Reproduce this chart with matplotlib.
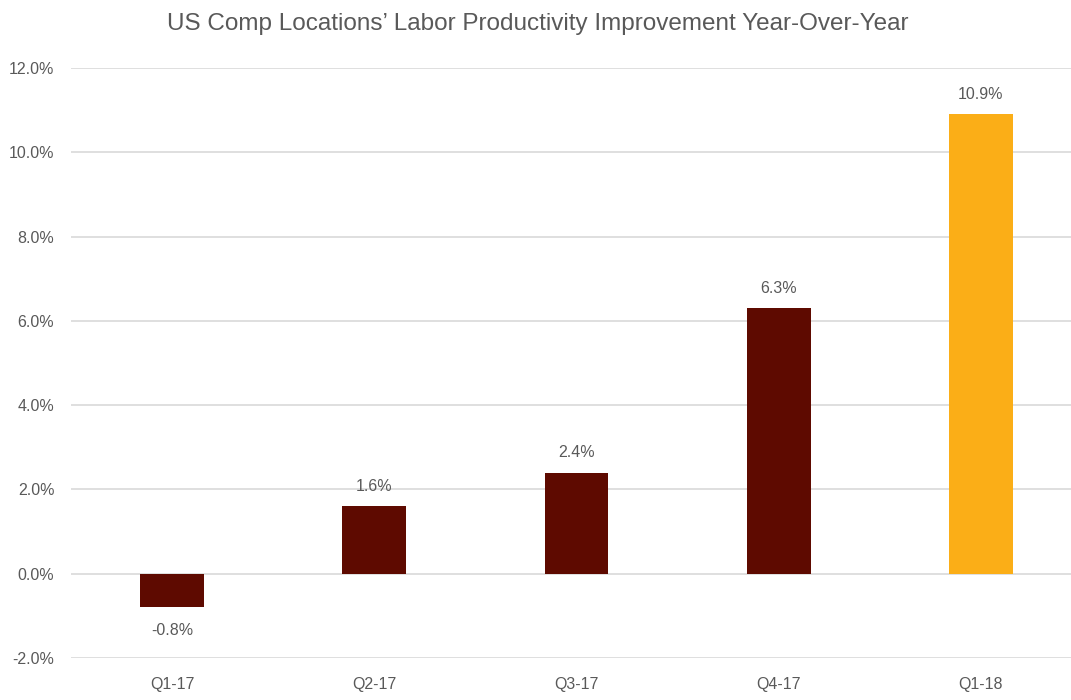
import matplotlib.pyplot as plt
import numpy as np

quarters = ['Q1-17', 'Q2-17', 'Q3-17', 'Q4-17', 'Q1-18']
improvement = [-0.8, 1.6, 2.4, 6.3, 10.9]
bar_colors = ['#5E0A00', '#5E0A00', '#5E0A00', '#5E0A00', '#FBAE17']
y_ticks = [-2, 0, 2, 4, 6, 8, 10, 12]

plt.rcParams['font.family'] = ['Liberation Sans Narrow', 'Liberation Sans', 'DejaVu Sans']
text_col = '#595959'

fig = plt.figure(figsize=(10.71, 7), dpi=100)
# axes runs a little past the right edge, like the source
ax = fig.add_axes([0.0663, 0.06, 0.944, 0.8429])

x = np.arange(len(quarters))
bars = ax.bar(x, improvement, width=0.315, color=bar_colors, zorder=3)

for xi, v in zip(x, improvement):
    if v >= 0:
        ax.annotate('%.1f%%' % v, (xi, v), xytext=(0, 9), textcoords='offset points',
                    ha='center', va='bottom', fontsize=11.5, color=text_col)
    else:
        ax.annotate('%.1f%%' % v, (xi, v), xytext=(0, -11), textcoords='offset points',
                    ha='center', va='top', fontsize=11.5, color=text_col)

ax.set_xlim(-0.5, len(quarters) - 0.5)
ax.set_ylim(-2, 12)
ax.set_yticks(y_ticks)
ax.set_yticklabels(['%.1f%%' % t for t in y_ticks])
ax.set_xticks(x)
ax.set_xticklabels(quarters)
ax.tick_params(axis='both', length=0, labelsize=11.5, labelcolor=text_col)
ax.tick_params(axis='x', pad=14)
ax.tick_params(axis='y', pad=12)
ax.grid(axis='y', color='#D9D9D9', linewidth=1.2, zorder=0)
for s in ax.spines.values():
    s.set_visible(False)

fig.text(0.502, 0.966, 'US Comp Locations\u2019 Labor Productivity Improvement Year-Over-Year',
         ha='center', va='center', fontsize=17.5, color=text_col)

fig.savefig('out.png', dpi=100)
